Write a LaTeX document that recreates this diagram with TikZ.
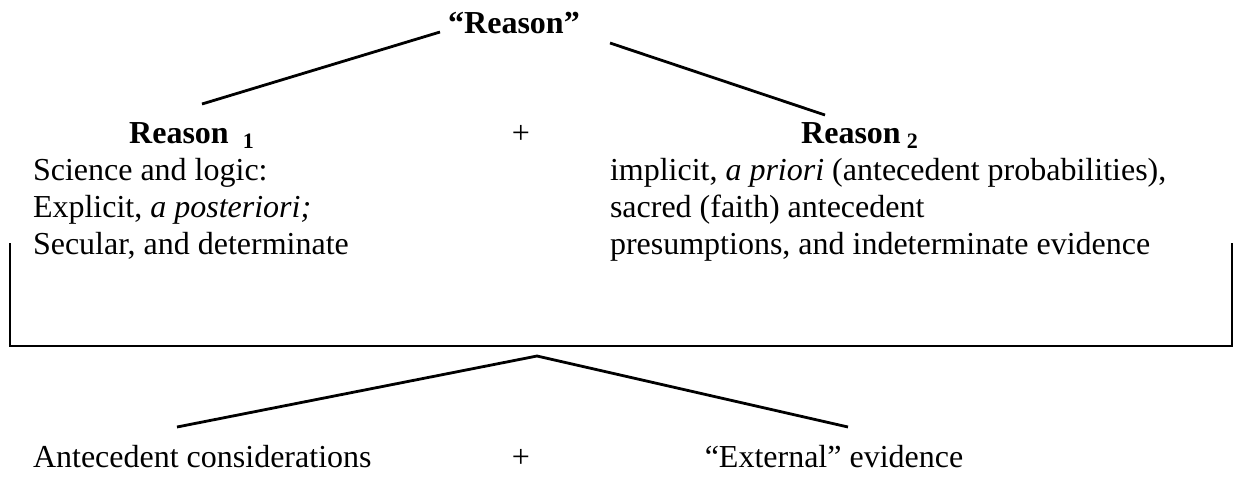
\documentclass[tikz,border=0pt]{standalone}
\usepackage{fontspec}
\setmainfont{Liberation Serif}
\usetikzlibrary{positioning}
\begin{document}
\begin{tikzpicture}[x=0.5pt,y=-0.5pt,
% plain text labels
txt/.style={
% The font:
font=\fontsize{16}{18.5}\selectfont,
inner sep=0pt, outer sep=0pt
},
% the bold headings
head/.style={
txt,
font=\fontsize{16}{18.5}\selectfont\bfseries
},
% the small index after a heading
index/.style={
txt, anchor=base west,
font=\fontsize{11}{11}\selectfont\bfseries
},
% left-aligned blocks of lines
% (base is the baseline of the last line)
block/.style={
txt, align=left, anchor=base west
},
% the connecting lines
link/.style={line width=1.4pt}
]
\useasboundingbox (0,0) rectangle (1235,479);
% top of the tree
\node [head, anchor=base] (reason) at (514,33) {``Reason''};
\node [head, anchor=base] (reasonA) at (179,143) {Reason};
\node [index] (subA) at ([xshift=7]reasonA.base east) {\raisebox{-0.5ex}{1}};
\node [txt, anchor=base] (plusA) at (521,143) {+};
\node [head, anchor=base] (reasonB) at (851,143) {Reason};
\node [index] (subB) at ([xshift=3]reasonB.base east) {\raisebox{-0.5ex}{2}};
% the two columns
\node [block] (colA) at (33,254) {Science and logic:\\Explicit, \textit{a posteriori;}\\Secular, and determinate};
\node [block] (colB) at (610,254) {implicit, \textit{a priori} (antecedent probabilities),\\sacred (faith) antecedent\\presumptions, and indeterminate evidence};
% bottom row
\node [txt, anchor=base west] (antec) at (33,467) {Antecedent considerations};
\node [txt, anchor=base] (plusB) at (521,467) {+};
\node [txt, anchor=base] (extern) at (834,467) {``External'' evidence};
% line ends
\coordinate (upL) at (440,32);
\coordinate (upR) at (610,43);
\coordinate (downL) at (202,104);
\coordinate (downR) at (825,115);
\coordinate (brTL) at (10,243);
\coordinate (brBL) at (10,346);
\coordinate (brBR) at (1232,346);
\coordinate (brTR) at (1232,243);
\coordinate (apex) at (537,356);
\coordinate (footL) at (177,427);
\coordinate (footR) at (848,427);
% lines
\draw [link] (upL) -- (downL);
\draw [link] (upR) -- (downR);
\draw [link] (brTL) -- (brBL) -- (brBR) -- (brTR);
\draw [link] (footL) -- (apex) -- (footR);
\end{tikzpicture}
\end{document}
